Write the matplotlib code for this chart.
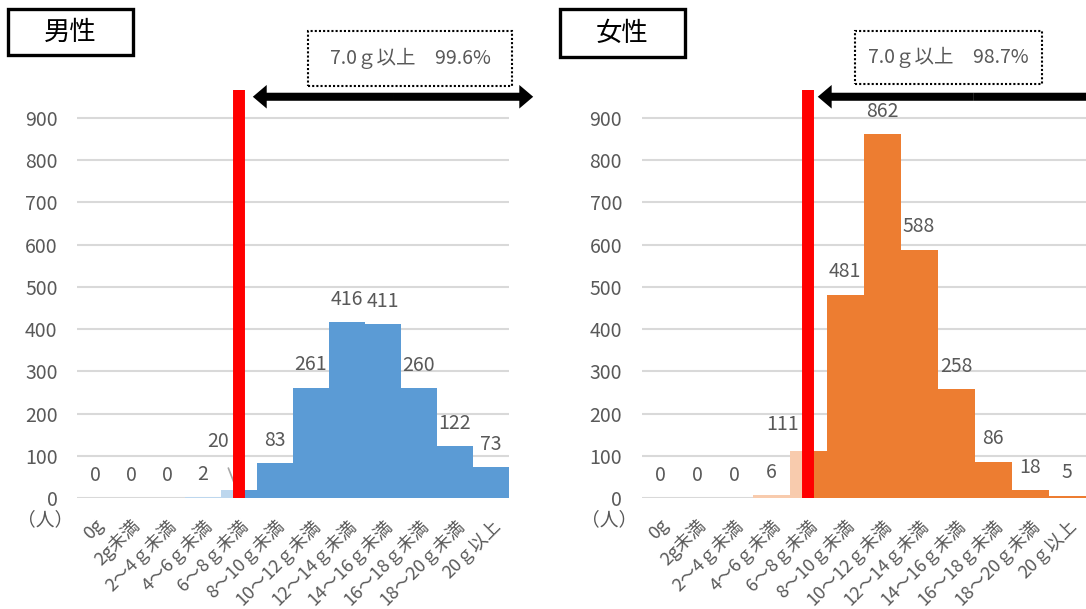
import matplotlib
matplotlib.use("Agg")
import matplotlib.pyplot as plt
from matplotlib.patches import Rectangle

plt.rcParams['font.family'] = ['Noto Sans CJK JP', 'DejaVu Sans']

# salt intake bins (g/day)
bins = ['0g', '2g未満', '2～4ｇ未満', '4～6ｇ未満', '6～8ｇ未満', '8～10ｇ未満',
        '10～12ｇ未満', '12～14ｇ未満', '14～16ｇ未満', '16～18ｇ未満',
        '18～20ｇ未満', '20ｇ以上']
men = [0, 0, 0, 2, 20, 83, 261, 416, 411, 260, 122, 73]
women = [0, 0, 0, 6, 111, 481, 862, 588, 258, 86, 18, 5]
titles = ['男性', '女性']
share_text = ['7.0ｇ以上　99.6%', '7.0ｇ以上　98.7%']
yticks = [0, 100, 200, 300, 400, 500, 600, 700, 800, 900]

W, H = 1086, 609
fig = plt.figure(figsize=(W / 100, H / 100), dpi=100)

grey = '#595959'
cut_pos = 4.5  # 7.0 g sits in the middle of the 6~8 bin


def px(x0, y0, w, h):
    # pixel box (top-left origin) -> figure fraction
    return [x0 / W, 1 - (y0 + h) / H, w / W, h / H]


def panel(rect, vals, dark, light, title_box, title, note_box, note, lab_xy, arrow_x):
    ax = fig.add_axes(px(*rect))
    n = len(vals)
    for i, v in enumerate(vals):
        if i < 4:
            ax.bar(i, v, width=1, align='edge', color=light, zorder=2)
        elif i == 4:
            ax.bar(i, v, width=0.5, align='edge', color=light, zorder=2)
            ax.bar(i + 0.5, v, width=0.5, align='edge', color=dark, zorder=2)
        else:
            ax.bar(i, v, width=1, align='edge', color=dark, zorder=2)
    # threshold line
    ax.plot([cut_pos, cut_pos], [0, 1000], color='#FF0000', lw=8.6,
            solid_capstyle='butt', zorder=4)
    # value labels
    for i, v in enumerate(vals):
        if i == 4:
            ax.annotate(str(v), xy=(4.4, v + 8), xytext=lab_xy, textcoords='data',
                        ha='center', va='center', fontsize=14, color=grey,
                        arrowprops=dict(arrowstyle='-', color='#A6A6A6', lw=1.2,
                                        shrinkA=10, shrinkB=0))
        else:
            ax.annotate(str(v), xy=(i + 0.5, v), xytext=(0, 16.5),
                        textcoords='offset points', ha='center', va='center',
                        fontsize=14, color=grey)
    # range arrow, drawn as two halves from the middle
    a0, a1 = arrow_x
    mid = (a0 + a1) / 2
    for end in (a0, a1):
        ax.annotate('', xy=(end, 950), xycoords=('axes fraction', 'data'),
                    xytext=(mid, 950), textcoords=('axes fraction', 'data'),
                    arrowprops=dict(arrowstyle='simple,head_length=1.0,head_width=1.7,tail_width=0.58',
                                    color='black', lw=0, mutation_scale=10,
                                    shrinkA=0, shrinkB=0),
                    annotation_clip=False)
    ax.set_xlim(0, n)
    ax.set_ylim(0, 966)
    ax.set_yticks(yticks)
    ax.set_yticklabels([str(t) for t in yticks], fontsize=14, color=grey)
    ax.yaxis.grid(True, color='#D9D9D9', lw=1.5, zorder=0)
    ax.set_axisbelow(True)
    ax.set_xticks([i + 0.5 for i in range(n)])
    ax.set_xticklabels(bins, rotation=45, ha='right', va='top',
                       rotation_mode='anchor', fontsize=13, color=grey)
    ax.tick_params(length=0, axis='x', pad=13)
    ax.tick_params(length=0, axis='y', pad=14)
    for s in ax.spines.values():
        s.set_visible(False)
    ax.text(-32 / rect[2], -22 / rect[3], '（人）', transform=ax.transAxes, ha='center',
            va='center', fontsize=13.5, color=grey)
    # title box
    b = px(*title_box)
    fig.add_artist(Rectangle(b[:2], *b[2:], transform=fig.transFigure, fill=False,
                             lw=2.4, edgecolor='black'))
    fig.text(b[0] + b[2] / 2, b[1] + b[3] / 2, title, ha='center', va='center',
             fontsize=19, color='black')
    # dotted note box
    b = px(*note_box)
    fig.add_artist(Rectangle(b[:2], *b[2:], transform=fig.transFigure,
                             fill=False, lw=1.5, ls=(0, (1, 1)), edgecolor='black'))
    fig.text(b[0] + b[2] / 2, b[1] + b[3] / 2, note, ha='center', va='center',
             fontsize=14, color=grey)
    return ax


panel((77, 90, 432, 408), men, '#5B9BD5', '#BDD7EE', (8, 9, 125, 46), titles[0],
      (308, 31, 204, 55), share_text[0], (3.92, 133), (0.407, 1.056))
panel((641.5, 90, 444, 408), women, '#ED7D31', '#F8CBAD', (560, 9, 125, 48), titles[1],
      (855, 31, 187, 53), share_text[1], (3.8, 175), (0.397, 1.10))

fig.savefig('out.png', dpi=100)
